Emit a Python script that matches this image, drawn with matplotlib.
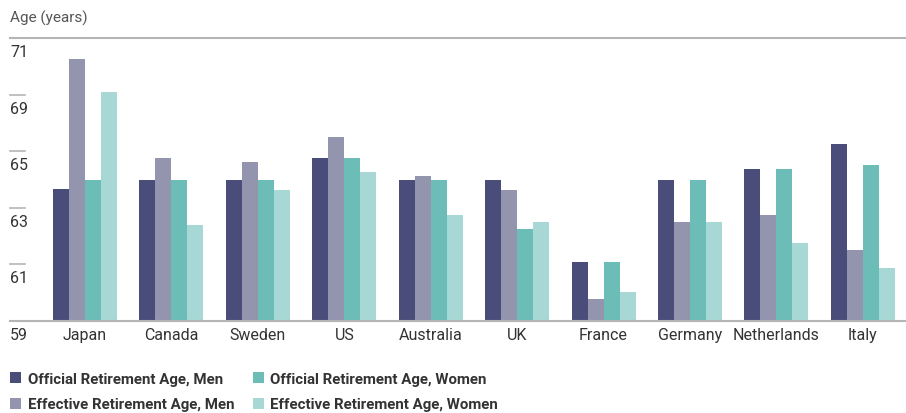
import numpy as np
import matplotlib.pyplot as plt
import matplotlib.transforms as mtransforms
from matplotlib import font_manager

countries = ["Japan", "Canada", "Sweden", "US", "Australia", "UK",
             "France", "Germany", "Netherlands", "Italy"]
official_men = [64.6, 65.0, 65.0, 65.9, 65.0, 65.0, 61.5, 65.0, 65.45, 66.5]
effective_men = [70.1, 65.9, 65.75, 66.8, 65.15, 64.55, 59.95, 63.2, 63.5, 62.0]
official_women = [65.0, 65.0, 65.0, 65.9, 65.0, 62.9, 61.5, 65.0, 65.45, 65.6]
effective_women = [68.7, 63.05, 64.55, 65.3, 63.5, 63.2, 60.25, 63.2, 62.3, 61.25]

series_names = ["Official Retirement Age, Men", "Effective Retirement Age, Men",
                "Official Retirement Age, Women", "Effective Retirement Age, Women"]
colors = ["#4a4d79", "#9394ae", "#6cbcb8", "#a8d8d5"]

ytick_vals = np.linspace(59, 71, 6)
ytick_labels = ["59", "61", "63", "65", "69", "71"]

names = [f.name for f in font_manager.fontManager.ttflist]
narrow = "Liberation Sans Narrow" if "Liberation Sans Narrow" in names else "Roboto"
plt.rcParams['font.family'] = [narrow, 'DejaVu Sans']

fig = plt.figure(figsize=(9.06, 4.14), dpi=100)
ax = fig.add_axes([10 / 906, 1 - 322 / 414, 896 / 906, 283 / 414])

x = np.arange(len(countries))
w = 0.185
all_series = [official_men, effective_men, official_women, effective_women]
for k, (vals, c, name) in enumerate(zip(all_series, colors, series_names)):
    ax.bar(x + (k - 1.5) * w, np.array(vals) - 59, bottom=59, width=w,
           color=c, label=name, zorder=2)

ax.set_xlim(-0.868, 9.50)
ax.set_ylim(59, 71)

for s in ["left", "right"]:
    ax.spines[s].set_visible(False)
for s in ["top", "bottom"]:
    ax.spines[s].set_color("#b5b5b5")
    ax.spines[s].set_linewidth(1.5)
ax.spines["bottom"].set_zorder(3)

ax.set_yticks([])
ax.set_xticks(x)
ax.set_xticklabels(countries, fontsize=11.5, color="#333333")
ax.tick_params(axis="x", length=0, pad=4)

trans = mtransforms.blended_transform_factory(ax.transAxes, ax.transData)
label_trans = trans + mtransforms.ScaledTranslation(0, -6 / 100, fig.dpi_scale_trans)
for v, lab in zip(ytick_vals, ytick_labels):
    if 59 < v < 71:
        ax.plot([0, 0.017], [v, v], color="#b5b5b5", lw=1.2, transform=trans,
                clip_on=False)
    ax.text(0, v, lab, transform=label_trans, ha="left", va="top", fontsize=11.5,
            color="#333333")

fig.text(10 / 906, 1 - 18 / 414, "Age (years)", ha="left", va="center",
         fontsize=11, color="#555555")

leg = fig.legend(loc="upper left", bbox_to_anchor=(10 / 906, 1 - 373 / 414), ncol=2,
                 frameon=False, borderpad=0, borderaxespad=0,
                 handlelength=0.75, handleheight=0.75, handletextpad=0.45,
                 columnspacing=1.2, labelspacing=0.75,
                 prop={"family": [narrow, "DejaVu Sans"], "weight": "bold", "size": 10.8})
for t in leg.get_texts():
    t.set_color("#333333")

fig.savefig("out.png", dpi=100)
